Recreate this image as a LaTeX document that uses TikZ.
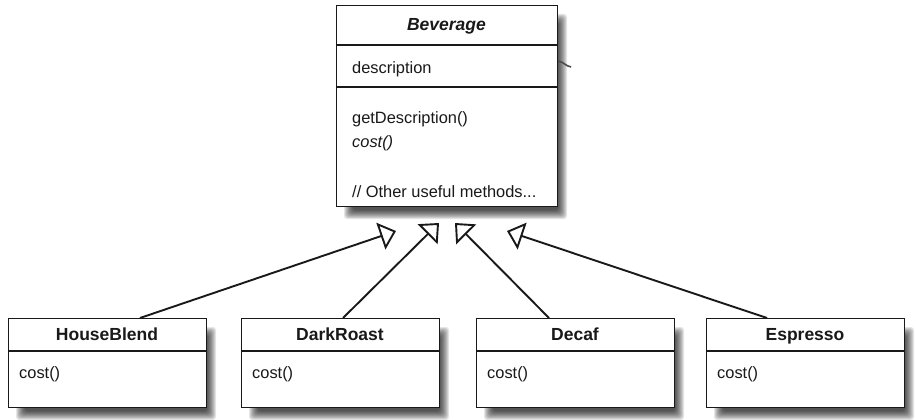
\documentclass[tikz,border=0pt]{standalone}
\usepackage{fontspec}
\setmainfont{Liberation Sans}
\usetikzlibrary{arrows.meta}
\newcommand{\csshadow}[4]{%
  \foreach \i in {0,...,9}{%
    \fill[black, fill opacity=0.1, rounded corners=3pt]
      ({#1+8+\i},{#2+9+\i}) rectangle ({#3+10-\i},{#4+13-\i});
  }%
}
\begin{document}
\begin{tikzpicture}[x=1pt,y=-1pt]
\tikzset{
  classbox/.style={draw=black!90, line width=1.3pt, fill=white, rectangle,
    inner sep=0pt, anchor=north west},
  sepline/.style={draw=black!90, line width=1.3pt},
  titletext/.style={font=\fontsize{17.5}{20}\selectfont\bfseries, text=black!90, inner sep=0pt, anchor=base},
  bodytext/.style={font=\fontsize{16.4}{19}\selectfont, text=black!90, inner sep=0pt, anchor=base west},
  gen/.style={draw=black!90, line width=1.9pt,
    -{Triangle[open, length=16pt, width=28pt, line width=1.9pt]}},
  assoc/.style={draw=black!70, line width=1.6pt}
}
\useasboundingbox (0,0) rectangle (916,420);
\fill[white] (0,0) rectangle (916,420);

% Beverage
\csshadow{336}{5}{557}{206}
\node[classbox, minimum width=221pt, minimum height=201pt] (bev) at (336,5) {};
\draw[sepline] (336,45) -- (557,45);
\draw[sepline] (336,87) -- (557,87);
\node[titletext] (bevt) at (446.5,31) {\itshape Beverage};
\node[bodytext] (bevd) at (352,74) {description};
\node[bodytext] (bevm1) at (352,124) {getDescription()};
\node[bodytext] (bevm2) at (352,147) {\itshape cost()};
\node[bodytext] (bevm3) at (352,197) {// Other useful methods...};
\coordinate (assocEnd) at (571,67);
\draw[assoc] ([yshift=-56pt]bev.north east) to[out=-10,in=170] (assocEnd);

% Subclasses
\foreach \n/\x/\t in {hb/8/HouseBlend, dr/241/DarkRoast, dc/476/Decaf, es/706/Espresso}{
  \csshadow{\x}{318}{\x+198}{407}
  \node[classbox, minimum width=198pt, minimum height=89pt] (\n) at (\x,318) {};
  \draw[sepline] (\x,351) -- ++(198,0);
  \node[titletext] (\n t) at (\x+99,340) {\t};
  \node[bodytext] (\n c) at (\x+11,378) {cost()};
}

% Generalization arrows
\coordinate (t1) at (396,231);
\coordinate (t2) at (439,223);
\coordinate (t3) at (455,223);
\coordinate (t4) at (507,231);
\draw[gen] ([xshift=132pt]hb.north west) -- (t1);
\draw[gen] ([xshift=102pt]dr.north west) -- (t2);
\draw[gen] ([xshift=73pt]dc.north west) -- (t3);
\draw[gen] ([xshift=61pt]es.north west) -- (t4);
\end{tikzpicture}
\end{document}
